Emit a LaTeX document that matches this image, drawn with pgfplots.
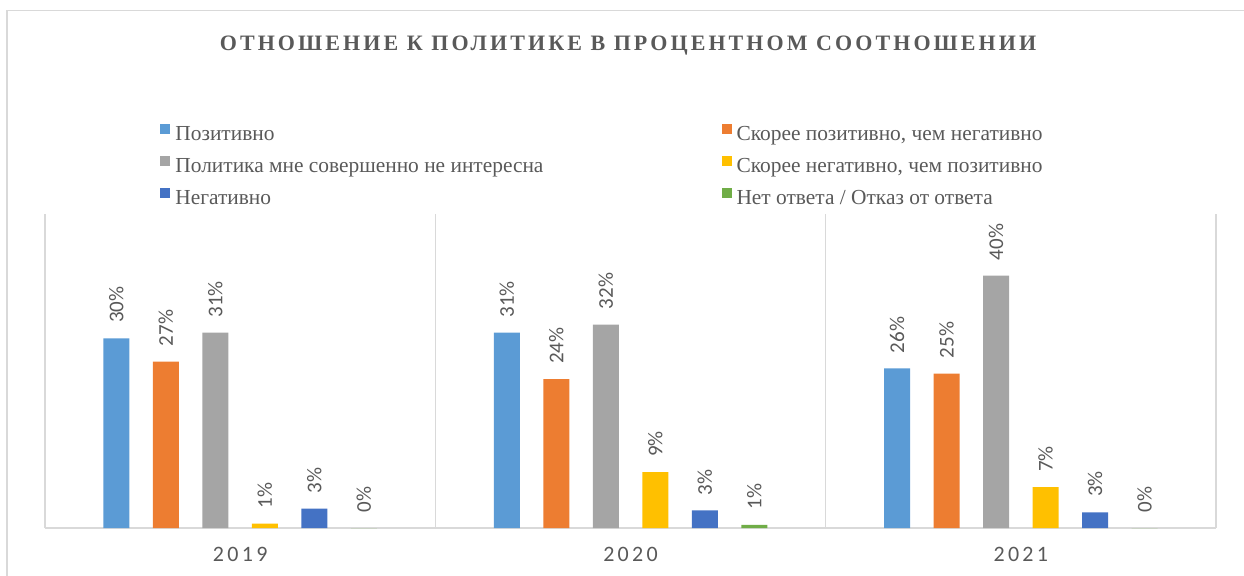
\documentclass[border=0pt]{standalone}
\usepackage{fontspec}
\setmainfont{Liberation Serif}
\newfontfamily\titlefont[LetterSpace=14]{Liberation Serif}
\newfontfamily\tickfont[LetterSpace=15]{Carlito}
\newfontfamily\labelfont{Carlito}
\usepackage{pgfplots}
\pgfplotsset{compat=1.18}

\definecolor{cBlue}{HTML}{5B9BD5}
\definecolor{cOrange}{HTML}{ED7D31}
\definecolor{cGray}{HTML}{A5A5A5}
\definecolor{cYellow}{HTML}{FFC000}
\definecolor{cDBlue}{HTML}{4472C4}
\definecolor{cGreen}{HTML}{70AD47}
\definecolor{cText}{HTML}{595959}
\definecolor{cLine}{HTML}{D9D9D9}

\begin{document}
\begin{tikzpicture}
\clip (0,0) rectangle (622pt,287.5pt);
\draw[cLine, line width=0.7pt] (3.5pt,-10pt) rectangle (640pt,282.2pt);
\node[anchor=base, text=cText, font=\titlefont\bfseries\fontsize{11}{13}\selectfont]
  at (314pt,262.3pt) {ОТНОШЕНИЕ К ПОЛИТИКЕ В ПРОЦЕНТНОМ СООТНОШЕНИИ};

\begin{axis}[
  at={(22.5pt,23.5pt)}, anchor=south west,
  scale only axis, width=585.5pt, height=157pt,
  xmin=0.5, xmax=3.5, ymin=0, ymax=50,
  ybar=11.75pt, bar width=13pt,
  axis y line=none, axis x line*=bottom,
  axis line style={cLine, line width=0.7pt},
  xtick={1,2,3}, xticklabels={2019,2020,2021},
  minor xtick={0.5,1.5,2.5,3.5}, xminorgrids,
  minor grid style={cLine, line width=0.7pt},
  major tick length=0pt, minor tick length=0pt,
  xticklabel style={font=\tickfont\fontsize{11}{13}\selectfont, text=cText, yshift=-6.3pt},
  point meta=explicit symbolic,
  nodes near coords={\pgfplotspointmeta\%},
  every node near coord/.append style={font=\labelfont\fontsize{10.5}{12}\selectfont,
    text=cText, rotate=90, anchor=west, inner xsep=7.5pt, inner ysep=0pt},
  legend columns=2, legend cell align=left,
  legend image code/.code={\fill[#1] (0pt,1pt) rectangle (5pt,6pt);},
  legend style={at={(0.0982,1.289)}, anchor=north west, draw=none, fill=none,
    inner sep=0pt, font=\fontsize{10.7}{12.5}\selectfont, text=cText, row sep=4.5pt,
    nodes={inner sep=1pt, text height=7pt, text depth=2pt},
    /tikz/every odd column/.append style={column sep=1.5pt},
    /tikz/every even column/.append style={column sep=88pt}},
]
\addplot[fill=cBlue, draw=none] coordinates {(1,30.2)[30] (2,31.1)[31] (3,25.4)[26]};
\addlegendentry{Позитивно}
\addplot[fill=cOrange, draw=none] coordinates {(1,26.5)[27] (2,23.7)[24] (3,24.6)[25]};
\addlegendentry{Скорее позитивно, чем негативно}
\addplot[fill=cGray, draw=none] coordinates {(1,31.1)[31] (2,32.4)[32] (3,40.2)[40]};
\addlegendentry{Политика мне совершенно не интересна}
\addplot[fill=cYellow, draw=none] coordinates {(1,0.7)[1] (2,8.9)[9] (3,6.5)[7]};
\addlegendentry{Скорее негативно, чем позитивно}
\addplot[fill=cDBlue, draw=none] coordinates {(1,3.1)[3] (2,2.8)[3] (3,2.5)[3]};
\addlegendentry{Негативно}
\addplot[fill=cGreen, draw=none] coordinates {(1,0)[0] (2,0.5)[1] (3,0)[0]};
\addlegendentry{Нет ответа / Отказ от ответа}
\end{axis}
\end{tikzpicture}
\end{document}
